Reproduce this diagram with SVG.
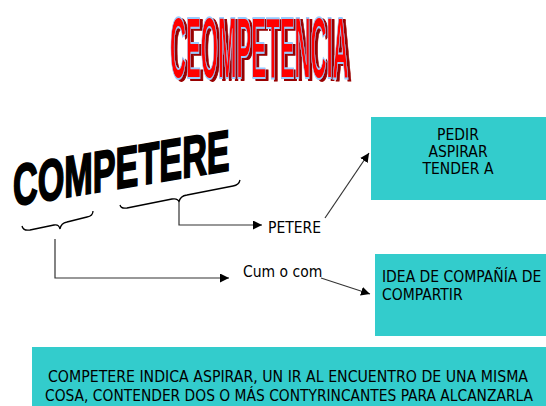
<svg xmlns="http://www.w3.org/2000/svg" width="546" height="406" viewBox="0 0 546 406">
<defs>
<style>
.box{fill:#33CCCC;}
.t{font-family:"DejaVu Sans Condensed","DejaVu Sans","Liberation Sans",sans-serif;font-stretch:condensed;font-size:15.5px;fill:#000;}
.ttl{font-family:"Liberation Sans",Arial,sans-serif;font-weight:bold;font-size:88px;}
.ln{fill:none;stroke:#333;stroke-width:1.2;}
.br{fill:none;stroke:#000;stroke-width:1.3;}
</style>
<filter id="sh" x="-10%" y="-10%" width="130%" height="130%">
<feOffset in="SourceAlpha" dx="2.5" dy="2" result="o"/>
<feFlood flood-color="#990000"/>
<feComposite in2="o" operator="in" result="s"/>
<feMerge><feMergeNode in="s"/><feMergeNode in="SourceGraphic"/></feMerge>
</filter>
<marker id="ah" viewBox="0 0 10 10" refX="10" refY="5" markerWidth="9" markerHeight="9" markerUnits="userSpaceOnUse" orient="auto">
<path d="M0,0 L10,5 L0,10 Z" fill="#000"/>
</marker>
</defs>
<rect width="546" height="406" fill="#fff"/>
<g id="title" filter="url(#sh)">
<text class="ttl" transform="translate(170,78) scale(0.252,1)" x="0" y="0" fill="#FF0000" stroke="#99CCFF" stroke-width="1.3" vector-effect="non-scaling-stroke">CEOMPETENCIA</text>
</g>
<g id="competere">
<text transform="translate(13,206) skewY(-9.4) scale(0.59,1)" x="0" y="0" font-family="Liberation Sans, Arial, sans-serif" font-weight="bold" font-size="58" fill="#000" stroke="#000" stroke-width="2">COMPETERE</text>
</g>
<g id="braces">
<path class="br" d="M22,226 Q23,231 30,230 L54,225 Q59,224 60,229 Q61,223 67,222 L87,217 Q93,216 93,211"/>
<path class="br" d="M120,205 Q121,209 127,208 L172,199 Q178,198 179,202 Q180,196 187,195 L233,186 Q239,185 240,180"/>
</g>
<g id="connectors">
<polyline class="ln" points="179,201 179,225 262,225" marker-end="url(#ah)"/>
<polyline class="ln" points="55,239 55,278 229,278" marker-end="url(#ah)"/>
<line class="ln" x1="325" y1="218" x2="369" y2="153" marker-end="url(#ah)"/>
<line class="ln" x1="321" y1="278" x2="370" y2="294" marker-end="url(#ah)"/>
</g>
<g id="petere">
<text class="t" x="268" y="233">PETERE</text>
</g>
<g id="cum">
<text class="t" x="243" y="277">Cum o com</text>
</g>
<g id="box-pedir">
<rect class="box" x="371" y="117" width="175" height="83"/>
<text class="t" x="458" y="140" text-anchor="middle">PEDIR</text>
<text class="t" x="458" y="157" text-anchor="middle">ASPIRAR</text>
<text class="t" x="458" y="174" text-anchor="middle">TENDER A</text>
</g>
<g id="box-idea">
<rect class="box" x="375" y="254" width="171" height="82"/>
<text class="t" x="382" y="282">IDEA DE COMPAÑÍA DE</text>
<text class="t" x="382" y="299.5">COMPARTIR</text>
</g>
<g id="box-bottom">
<rect class="box" x="32" y="347" width="514" height="59"/>
<text class="t" x="48" y="382" font-size="15" textLength="480" lengthAdjust="spacingAndGlyphs">COMPETERE INDICA ASPIRAR, UN IR AL ENCUENTRO DE UNA MISMA</text>
<text class="t" x="45" y="401" font-size="15" textLength="488" lengthAdjust="spacingAndGlyphs">COSA, CONTENDER DOS O MÁS CONTYRINCANTES PARA ALCANZARLA</text>
</g>
</svg>
